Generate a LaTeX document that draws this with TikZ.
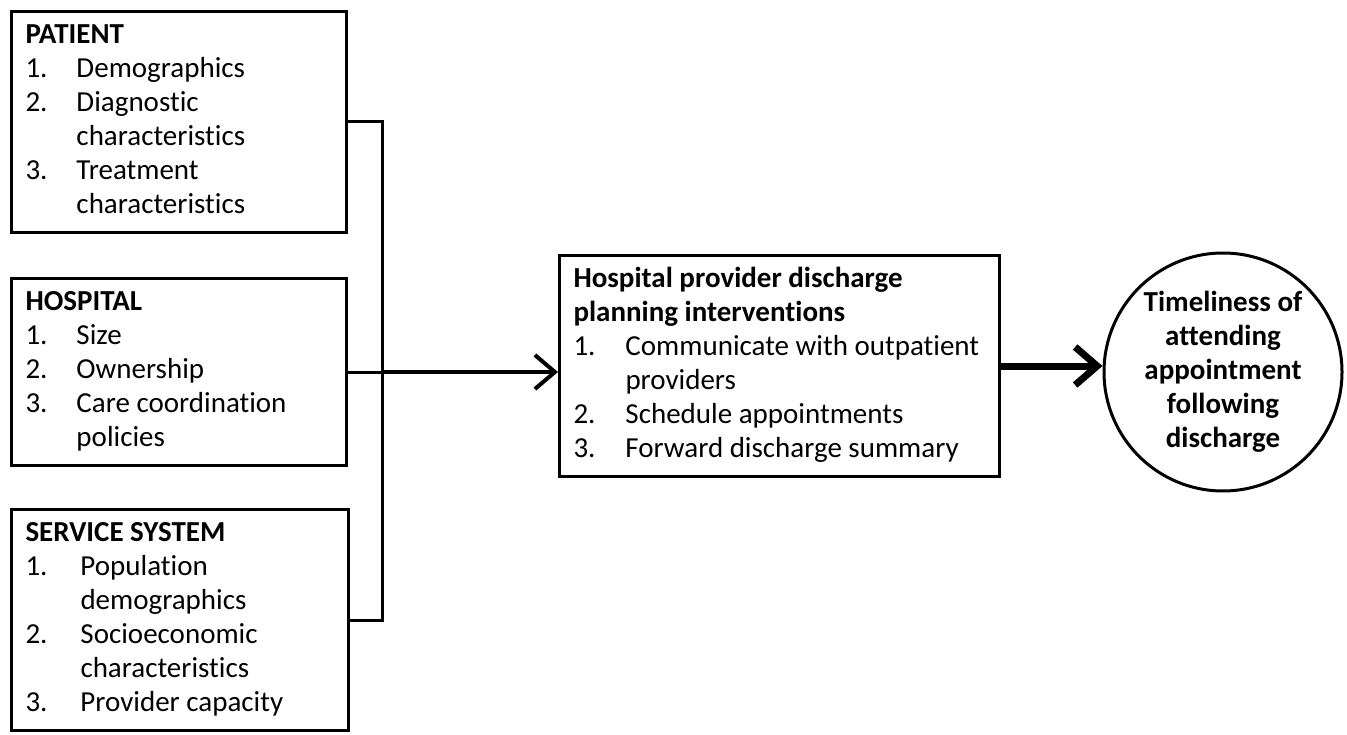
\documentclass[tikz,border=0pt]{standalone}
\usepackage{fontspec}
\setmainfont{Carlito}[Ligatures=NoCommon]
\usepackage{array}
\usetikzlibrary{arrows.meta,positioning,calc}

\newcommand{\boxhead}[1]{\multicolumn{2}{@{}l@{}}{\bfseries #1}\\}

\begin{document}
\begin{tikzpicture}[x=1pt, y=-1pt, line width=3pt,
    every node/.style={font=\fontsize{29}{34}\selectfont},
    factor/.style={draw, rectangle, anchor=north west, inner xsep=14pt, inner ysep=8.5pt},
    outcome/.style={draw, circle, minimum size=238pt, inner sep=0pt, align=center, font=\fontsize{29}{34}\selectfont\bfseries}]
    \useasboundingbox (0,0) rectangle (1347,735);

    \node[factor] (patient) at (10, 10) {%
        \begin{tabular}{@{}p{51pt}@{}p{256pt}@{}}
        \boxhead{PATIENT}
        1. & Demographics\\
        2. & Diagnostic\\
           & characteristics\\
        3. & Treatment\\
           & characteristics
        \end{tabular}};

    \node[factor] (hospital) at (10, 277) {%
        \begin{tabular}{@{}p{51pt}@{}p{256pt}@{}}
        \boxhead{HOSPITAL}
        1. & Size\\
        2. & Ownership\\
        3. & Care coordination\\
           & policies
        \end{tabular}};

    \node[factor] (service) at (10, 508) {%
        \begin{tabular}{@{}p{55pt}@{}p{254pt}@{}}
        \boxhead{SERVICE SYSTEM}
        1. & Population\\
           & demographics\\
        2. & Socioeconomic\\
           & characteristics\\
        3. & Provider capacity
        \end{tabular}};

    \node[factor] (planning) at (558, 254) {%
        \begin{tabular}{@{}p{52pt}@{}p{360pt}@{}}
        \boxhead{Hospital provider discharge}
        \boxhead{planning interventions}
        1. & Communicate with outpatient\\
           & providers\\
        2. & Schedule appointments\\
        3. & Forward discharge summary
        \end{tabular}};

    \node[outcome] (timeliness) at (1223, 372) {Timeliness of\\attending\\appointment\\following\\discharge};

    % bracket joining the three factor boxes
    \coordinate (bus) at (382, 0 |- hospital.east);
    \draw (patient.east) -| (bus) |- (service.east);
    \draw (hospital.east) -- (bus);
    \draw[-{Straight Barb[length=20pt, width=34pt]}, line width=4pt] (bus) -- (bus -| planning.west);
    \draw[-{Straight Barb[length=22pt, width=38pt]}, line width=7pt] (planning.east) -- (planning.east -| timeliness.west);
\end{tikzpicture}
\end{document}
